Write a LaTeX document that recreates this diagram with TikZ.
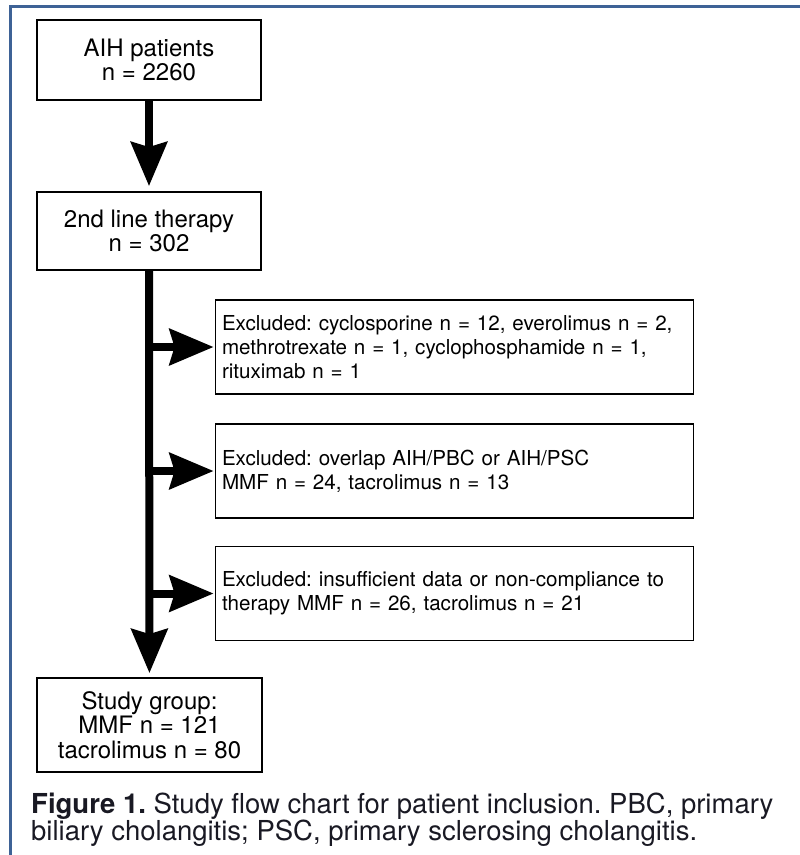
\documentclass[tikz,border=0pt]{standalone}
\usepackage{fontspec}
\setmainfont{TeX Gyre Heros}
\usepackage{tikz}
\usetikzlibrary{arrows.meta,positioning,calc}
\definecolor{frameblue}{RGB}{62,98,150}
\definecolor{captext}{RGB}{25,25,35}
\frenchspacing

\begin{document}
\begin{tikzpicture}[x=1pt,y=-1pt,
  box/.style={draw,line width=1.8pt,minimum width=224pt,align=center,inner sep=0pt,
    font=\fontsize{24}{24.5}\selectfont},
  exclbox/.style={draw,line width=1.8pt,minimum height=94pt,text width=465pt,
    inner xsep=6.5pt,inner ysep=0pt,align=left,font=\fontsize{20.6}{24}\selectfont},
  flow/.style={line width=8pt,-{Stealth[length=44pt,width=36pt,inset=5pt]}}]

  \useasboundingbox (0,0) rectangle (800,855);
  \draw[frameblue,line width=3pt] (10,855) -- (10,6) -- (800,6);

  \node[box,minimum height=80pt] (aih) at (149,60) {AIH patients\\n = 2260};
  \node[box,minimum height=78pt] (second) at (149,231) {2nd line therapy\\n = 302};
  \node[box,minimum width=225pt,minimum height=94pt] (study) at (149.5,725)
    {Study group:\\MMF n = 121\\tacrolimus n = 80};

  \node[exclbox] (excl1) at (454.5,347)
    {\mbox{Excluded: cyclosporine n = 12, everolimus n = 2,}\\methrotrexate n = 1, cyclophosphamide n = 1,\\rituximab n = 1};
  \node[exclbox] (excl2) at (454.5,471)
    {Excluded: overlap AIH/PBC or AIH/PSC\\MMF n = 24, tacrolimus n = 13};
  \node[exclbox] (excl3) at (454.5,593.5)
    {\mbox{Excluded: insufficient data or non-compliance to}\\therapy MMF n = 26, tacrolimus n = 21};

  \draw[flow,shorten >=5pt] (aih) -- (second);
  \draw[flow,shorten >=4pt] (second) -- (study);

  \coordinate (b1) at (second.south |- excl1.west);
  \coordinate (b2) at (second.south |- excl2.west);
  \coordinate (b3) at (second.south |- excl3.west);
  \draw[flow,shorten >=1pt] (b1) -- (excl1);
  \draw[flow,shorten >=1pt] (b2) -- (excl2);
  \draw[flow,shorten >=1pt] (b3) -- (excl3);

  \node[anchor=north west,inner sep=0pt,align=left,text=captext,
    font=\fontsize{27.5}{27}\selectfont] (caption) at (31,793)
    {\textbf{Figure 1.} Study flow chart for patient inclusion. PBC, primary\\biliary cholangitis; PSC, primary sclerosing cholangitis.};

\end{tikzpicture}
\end{document}
